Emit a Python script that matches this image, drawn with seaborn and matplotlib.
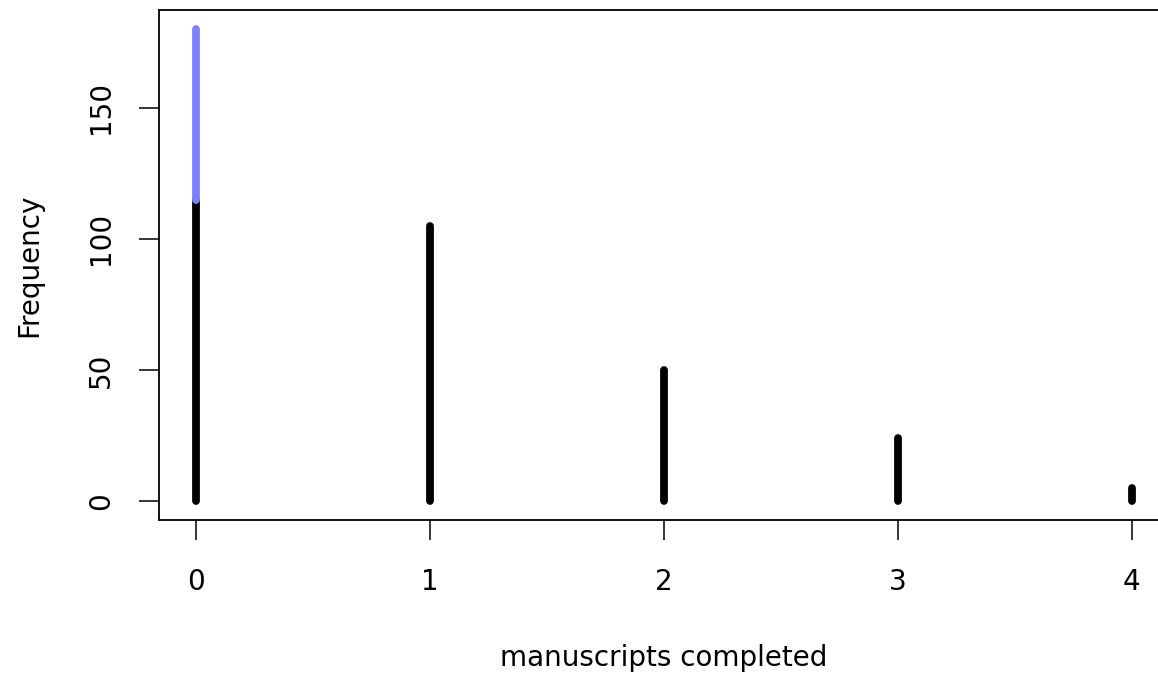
import matplotlib
matplotlib.use("Agg")
import matplotlib.pyplot as plt
import seaborn as sns
import pandas as pd

# ---- data ----
manuscripts = [0, 1, 2, 3, 4]
frequency = [115, 105, 50, 24, 5]
zero_total = 180          # observed + excess zeros at 0 (blue segment top)
x_ticks = [0, 1, 2, 3, 4]
y_ticks = [0, 50, 100, 150]
x_label = "manuscripts completed"
y_label = "Frequency"

sns.set_theme(style="white")
plt.rcParams["font.family"] = ["DejaVu Sans"]

# build segment table for lineplot
rows = []
for i, (m, f) in enumerate(zip(manuscripts, frequency)):
    rows.append({"x": m, "y": 0, "seg": f"c{i}", "part": "count"})
    rows.append({"x": m, "y": f, "seg": f"c{i}", "part": "count"})
rows.append({"x": manuscripts[0], "y": frequency[0], "seg": "z", "part": "zero"})
rows.append({"x": manuscripts[0], "y": zero_total, "seg": "z", "part": "zero"})
df = pd.DataFrame(rows)

fig = plt.figure(figsize=(11.58, 6.74), dpi=100)
ax = fig.add_axes([158.5 / 1158, (674 - 520.3) / 674, (1169 - 158.5) / 1158, (520.3 - 10) / 674])

sns.lineplot(data=df, x="x", y="y", units="seg", hue="part", estimator=None, sort=False,
             palette={"count": "black", "zero": "#8080FF"}, hue_order=["count", "zero"],
             linewidth=5.6, solid_capstyle="round", legend=False, ax=ax)

ax.set_xlim(-0.16, 4.16)
ax.set_ylim(-7.2, 187.2)
ax.set_xticks(x_ticks)
ax.set_yticks(y_ticks)
ax.set_xticklabels([str(v) for v in x_ticks])
ax.set_yticklabels([str(v) for v in y_ticks], rotation=90, va="center")

for s in ax.spines.values():
    s.set_visible(True)
    s.set_color("black")
    s.set_linewidth(1.3)

ax.tick_params(axis="both", which="major", direction="out", length=14.4, width=1.1,
               color="black", labelsize=20, labelcolor="black", bottom=True, left=True)
ax.tick_params(axis="x", pad=20)
ax.tick_params(axis="y", pad=17)

ax.set_xlabel(x_label, fontsize=20, color="black")
ax.set_ylabel(y_label, fontsize=20, color="black")
ax.xaxis.set_label_coords(0.5, -0.242)
ax.yaxis.set_label_coords(-0.1143, 0.5)
ax.grid(False)

fig.savefig("out.png", dpi=100, facecolor="white")
